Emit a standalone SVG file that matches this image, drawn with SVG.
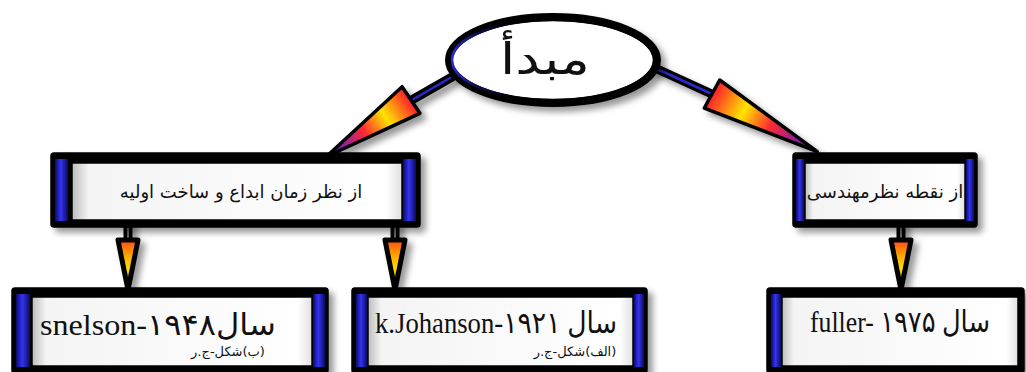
<svg xmlns="http://www.w3.org/2000/svg" xmlns:xlink="http://www.w3.org/1999/xlink" width="1026" height="372" viewBox="0 0 1026 372">
<style>
.frame{fill:#050505;stroke:#000;stroke-width:1.5}
.band{fill:url(#bandGrad)}
.inner{fill:url(#innerGrad);stroke:#000;stroke-width:1.5}
.ar{font-family:"DejaVu Sans","Noto Sans",sans-serif;fill:#111}
.rtl{direction:rtl;unicode-bidi:embed}
.mix{font-family:"Liberation Serif","DejaVu Sans",serif;fill:#111}
.shaftB{stroke:#000;stroke-width:9;stroke-linecap:round;fill:none}
.shaftBlue{stroke:#2a2ac8;stroke-width:2.5;stroke-linecap:round;fill:none}
.shaftG{stroke:#6a6a6a;stroke-width:2;fill:none}
</style>
<defs>
<filter id="sh" x="-20%" y="-20%" width="150%" height="160%">
<feDropShadow dx="5" dy="5" stdDeviation="3" flood-color="#000" flood-opacity="0.4"/>
</filter>
<linearGradient id="bandGrad" x1="0" y1="0" x2="1" y2="0">
<stop offset="0" stop-color="#0a0a70"/>
<stop offset="0.45" stop-color="#3434f0"/>
<stop offset="1" stop-color="#0a0a60"/>
</linearGradient>
<linearGradient id="innerGrad" x1="0" y1="0" x2="1" y2="0">
<stop offset="0" stop-color="#bdbdbd"/>
<stop offset="0.05" stop-color="#f4f4f4"/>
<stop offset="0.95" stop-color="#ffffff"/>
<stop offset="1" stop-color="#e0e0e0"/>
</linearGradient>
<linearGradient id="headGrad" x1="0" y1="0" x2="1" y2="0">
<stop offset="0" stop-color="#ff1a2a"/>
<stop offset="0.3" stop-color="#ffe400"/>
<stop offset="0.55" stop-color="#ff2a30"/>
<stop offset="0.8" stop-color="#9020a0"/>
<stop offset="1" stop-color="#2020c0"/>
</linearGradient>
<linearGradient id="smallGrad" x1="0" y1="0" x2="1" y2="0">
<stop offset="0" stop-color="#ff4a10"/>
<stop offset="0.35" stop-color="#ffb000"/>
<stop offset="0.6" stop-color="#ffe000"/>
<stop offset="1" stop-color="#202020"/>
</linearGradient>
<linearGradient id="ellGrad" x1="0" y1="0" x2="1" y2="0">
<stop offset="0" stop-color="#2a2ad0"/>
<stop offset="0.12" stop-color="#101050"/>
<stop offset="0.3" stop-color="#000"/>
<stop offset="1" stop-color="#000"/>
</linearGradient>
<polygon id="bigHead" points="0,-16 100,0 0,16" fill="url(#headGrad)" stroke="#000" stroke-width="3.5" stroke-linejoin="round" vector-effect="non-scaling-stroke"/>
<polygon id="smallHead" points="0,-10 50,0 0,10" fill="url(#smallGrad)" stroke="#000" stroke-width="5" stroke-linejoin="round" vector-effect="non-scaling-stroke"/>
</defs>

<g id="connectors" filter="url(#sh)">
<line class="shaftB" x1="452" y1="77" x2="410" y2="101"/>
<line class="shaftBlue" x1="450" y1="78" x2="412" y2="100"/>
<use xlink:href="#bigHead" transform="translate(411,100) rotate(146.2) scale(1.02,1)"/>
<line class="shaftB" x1="655" y1="68" x2="714" y2="95"/>
<line class="shaftBlue" x1="657" y1="69" x2="712" y2="94"/>
<use xlink:href="#bigHead" transform="translate(712,94) rotate(28.7) scale(1.2,1)"/>
<line class="shaftB" x1="128" y1="224" x2="128" y2="244"/>
<line class="shaftG" x1="128" y1="226" x2="128" y2="242"/>
<use xlink:href="#smallHead" transform="translate(128,240) rotate(90)"/>
<line class="shaftB" x1="395" y1="224" x2="395" y2="244"/>
<line class="shaftG" x1="395" y1="226" x2="395" y2="242"/>
<use xlink:href="#smallHead" transform="translate(395,240) rotate(90)"/>
<line class="shaftB" x1="901" y1="224" x2="901" y2="244"/>
<line class="shaftG" x1="901" y1="226" x2="901" y2="242"/>
<use xlink:href="#smallHead" transform="translate(901,240) rotate(90)"/>
</g>

<g id="root">
<ellipse cx="553" cy="60" rx="104" ry="43" fill="#fff" stroke="#000" stroke-width="8" filter="url(#sh)"/>
<ellipse cx="553" cy="60" rx="101" ry="40" fill="none" stroke="url(#ellGrad)" stroke-width="2.5"/>
<text class="ar rtl" x="545" y="74" font-size="44" text-anchor="middle" textLength="90" lengthAdjust="spacingAndGlyphs">مبدأ</text>
</g>

<g id="node-time">
<rect class="frame" x="51" y="153" width="369" height="74" rx="3" filter="url(#sh)"/>
<rect class="band" x="55" y="159" width="13" height="62"/>
<rect class="band" x="403" y="159" width="13" height="62"/>
<rect class="inner" x="72" y="163" width="330" height="57"/>
<text class="ar rtl" x="241" y="198" font-size="18" text-anchor="middle">از نظر زمان ابداع و ساخت اولیه</text>
</g>

<g id="node-eng">
<rect class="frame" x="793" y="153" width="184" height="74" rx="3" filter="url(#sh)"/>
<rect class="band" x="796" y="159" width="8" height="62"/>
<rect class="band" x="966" y="159" width="8" height="62"/>
<rect class="inner" x="805" y="163" width="160" height="57"/>
<text class="ar rtl" x="885" y="198" font-size="18" text-anchor="middle">از نقطه نظرمهندسی</text>
</g>

<g id="node-snelson">
<rect class="frame" x="12" y="288" width="316" height="85" rx="3" filter="url(#sh)"/>
<rect class="band" x="16" y="294" width="14" height="73"/>
<rect class="band" x="313" y="294" width="12" height="73"/>
<rect class="inner" x="32" y="297" width="280" height="69"/>
<text class="mix" x="158" y="335" font-size="30" text-anchor="middle" textLength="236" lengthAdjust="spacingAndGlyphs">snelson-۱۹۴۸سال</text>
<text class="ar" x="228" y="356" font-size="13" text-anchor="middle">ر&#x200E;.&#x200E;ج&#x200E;-&#x200E;شکل&#x200E;(&#x200E;ب&#x200E;)</text>
</g>

<g id="node-johanson">
<rect class="frame" x="352" y="288" width="295" height="85" rx="3" filter="url(#sh)"/>
<rect class="band" x="356" y="294" width="11" height="73"/>
<rect class="band" x="634" y="294" width="10" height="73"/>
<rect class="inner" x="368" y="297" width="265" height="69"/>
<text class="mix" x="496" y="333" font-size="30" text-anchor="middle" textLength="242" lengthAdjust="spacingAndGlyphs">k.Johanson-۱۹۲۱ سال</text>
<text class="ar" x="575" y="356" font-size="13" text-anchor="middle">ر&#x200E;.&#x200E;ج&#x200E;-&#x200E;شکل&#x200E;(&#x200E;الف&#x200E;)</text>
</g>

<g id="node-fuller">
<rect class="frame" x="767" y="288" width="257" height="85" rx="3" filter="url(#sh)"/>
<rect class="band" x="771" y="294" width="10" height="73"/>
<rect class="inner" x="782" y="297" width="236" height="69"/>
<text class="mix" x="900" y="332" font-size="30" text-anchor="middle" textLength="180" lengthAdjust="spacingAndGlyphs">fuller- ۱۹۷۵ سال</text>
</g>
</svg>
